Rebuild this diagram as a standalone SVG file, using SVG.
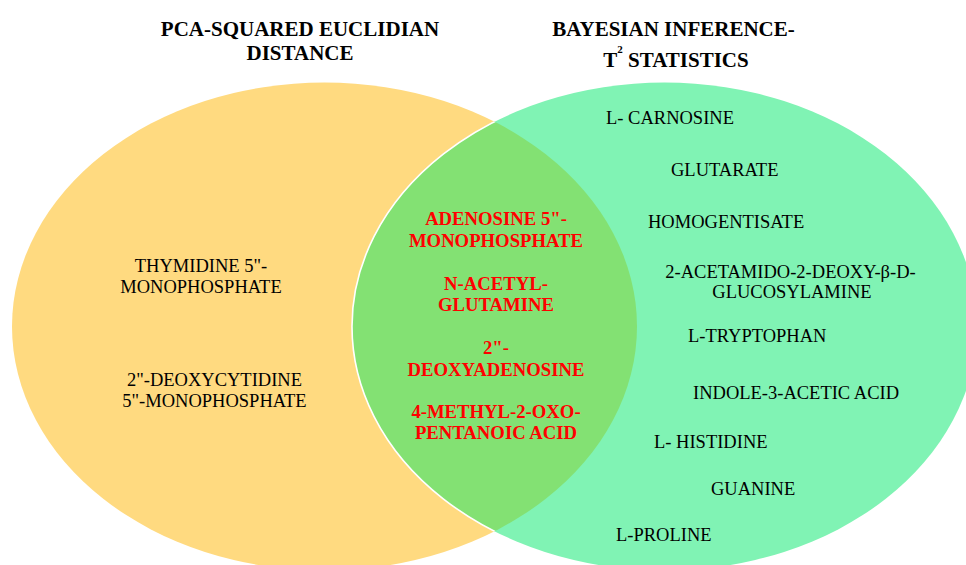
<svg xmlns="http://www.w3.org/2000/svg" width="966" height="565" viewBox="0 0 966 565">
  <style>
    .title { font-family: "Liberation Serif", "Times New Roman", serif; font-weight: bold; font-size: 21px; fill: #000; text-anchor: middle; }
    .item { font-family: "Liberation Serif", "Times New Roman", serif; font-size: 18.5px; fill: #000; }
    .mid { text-anchor: middle; }
    .shared { font-family: "Liberation Serif", "Times New Roman", serif; font-weight: bold; font-size: 18.7px; fill: #ff0000; text-anchor: middle; }
  </style>
  <defs>
    <clipPath id="clip-pca">
      <ellipse cx="324.5" cy="326.5" rx="312.5" ry="244"/>
    </clipPath>
  </defs>

  <rect width="966" height="565" fill="#ffffff"/>

  <!-- set circles -->
  <g id="set-pca">
    <ellipse cx="324.5" cy="326.5" rx="312.5" ry="244" fill="#ffda80"/>
  </g>
  <g id="set-bayes">
    <ellipse cx="664.5" cy="326.5" rx="312.5" ry="244" fill="#80f3b4"/>
  </g>
  <g id="set-overlap">
    <ellipse cx="664.5" cy="326.5" rx="312.5" ry="244" fill="#83e173" clip-path="url(#clip-pca)"/>
    <ellipse cx="664.5" cy="326.5" rx="312.5" ry="244" fill="none" stroke="#ffffff" stroke-width="1.6" clip-path="url(#clip-pca)"/>
  </g>

  <!-- set titles -->
  <g id="title-pca">
    <text class="title" x="300" y="36">PCA-SQUARED EUCLIDIAN</text>
    <text class="title" x="300" y="60">DISTANCE</text>
  </g>
  <g id="title-bayes">
    <text class="title" x="673.5" y="36">BAYESIAN INFERENCE-</text>
    <text class="title" x="676" y="67">T<tspan font-size="11" dy="-14">2</tspan><tspan dy="14"> STATISTICS</tspan></text>
  </g>

  <!-- PCA only -->
  <g id="item-thymidine">
    <text class="item mid" x="201" y="272">THYMIDINE 5"-</text>
    <text class="item mid" x="201" y="293">MONOPHOSPHATE</text>
  </g>
  <g id="item-deoxycytidine">
    <text class="item mid" x="214.5" y="386">2"-DEOXYCYTIDINE</text>
    <text class="item mid" x="214.5" y="407">5"-MONOPHOSPHATE</text>
  </g>

  <!-- shared by both methods -->
  <g id="item-adenosine">
    <text class="shared" x="496" y="225">ADENOSINE 5"-</text>
    <text class="shared" x="496" y="247">MONOPHOSPHATE</text>
  </g>
  <g id="item-acetylglutamine">
    <text class="shared" x="496" y="290">N-ACETYL-</text>
    <text class="shared" x="496" y="311">GLUTAMINE</text>
  </g>
  <g id="item-deoxyadenosine">
    <text class="shared" x="496" y="354">2"-</text>
    <text class="shared" x="496" y="376">DEOXYADENOSINE</text>
  </g>
  <g id="item-methyloxo">
    <text class="shared" x="496" y="418">4-METHYL-2-OXO-</text>
    <text class="shared" x="496" y="439">PENTANOIC ACID</text>
  </g>

  <!-- Bayesian only -->
  <g id="item-carnosine"><text class="item" x="606" y="124">L- CARNOSINE</text></g>
  <g id="item-glutarate"><text class="item" x="671" y="176">GLUTARATE</text></g>
  <g id="item-homogentisate"><text class="item" x="648" y="228">HOMOGENTISATE</text></g>
  <g id="item-glucosylamine">
    <text class="item mid" x="790.5" y="278">2-ACETAMIDO-2-DEOXY-β-D-</text>
    <text class="item mid" x="792" y="298">GLUCOSYLAMINE</text>
  </g>
  <g id="item-tryptophan"><text class="item" x="688" y="342">L-TRYPTOPHAN</text></g>
  <g id="item-indoleacetic"><text class="item" x="693" y="399">INDOLE-3-ACETIC ACID</text></g>
  <g id="item-histidine"><text class="item" x="654" y="448">L- HISTIDINE</text></g>
  <g id="item-guanine"><text class="item" x="711" y="495">GUANINE</text></g>
  <g id="item-proline"><text class="item" x="616" y="541">L-PROLINE</text></g>
</svg>
